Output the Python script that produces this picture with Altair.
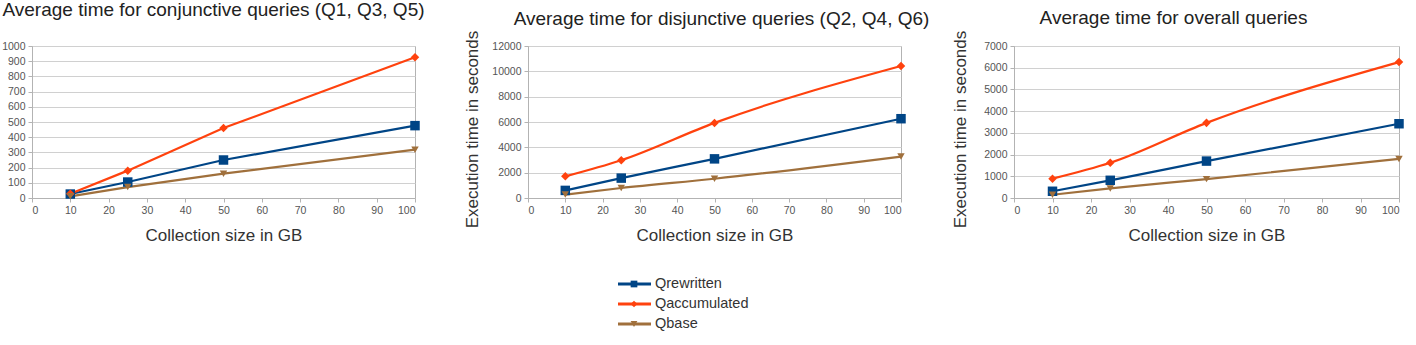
import altair as alt
import pandas as pd

sizes = [10, 25, 50, 100]
series = ["Qrewritten", "Qaccumulated", "Qbase"]
colors = ["#004586", "#ff420e", "#a0703c"]
shapes = ["square", "diamond", "triangle-down"]
marker_sizes = [90, 55, 65]

# average execution time (seconds) per collection size
conj_rewritten = [26, 105, 250, 476]
conj_accumulated = [28, 180, 460, 926]
conj_base = [11, 72, 160, 318]

disj_rewritten = [600, 1570, 3090, 6260]
disj_accumulated = [1710, 2980, 5930, 10420]
disj_base = [270, 790, 1520, 3270]

all_rewritten = [310, 815, 1700, 3420]
all_accumulated = [890, 1620, 3460, 6260]
all_base = [150, 440, 870, 1800]

FONT = "Liberation Sans"
GRID = "#b3b3b3"
PLOT_H = 152


def frame(values):
    rows = []
    for name, ys in zip(series, values):
        for x, y in zip(sizes, ys):
            rows.append({"size": x, "time": y, "series": name})
    return pd.DataFrame(rows)


def panel(values, title, ymax, ystep, width, ytitle, dx, interp, tpad, toff):
    df = frame(values)
    color = alt.Color("series:N", scale=alt.Scale(domain=series, range=colors), legend=None)
    x = alt.X("size:Q", scale=alt.Scale(domain=[0, 100], nice=False),
              axis=alt.Axis(values=list(range(0, 101, 10)), grid=False, format="d",
                            title="Collection size in GB", titlePadding=12))
    y = alt.Y("time:Q", scale=alt.Scale(domain=[0, ymax], nice=False),
              axis=alt.Axis(values=list(range(0, ymax + 1, ystep)), format="d",
                            title=ytitle, titlePadding=tpad, titleY=PLOT_H / 2 + 7))
    lines = alt.Chart(df).mark_line(strokeWidth=2.2, interpolate=interp).encode(
        x=x, y=y, color=color, detail="series:N")
    pts = alt.Chart(df).mark_point(filled=True, opacity=1).encode(
        x=x, y=y, color=color,
        shape=alt.Shape("series:N", scale=alt.Scale(domain=series, range=shapes), legend=None),
        size=alt.Size("series:N", scale=alt.Scale(domain=series, range=marker_sizes), legend=None))
    return (lines + pts).properties(
        width=width, height=PLOT_H,
        title=alt.TitleParams(title, fontSize=19, font=FONT, fontWeight="normal",
                              color="#222222", dx=dx, offset=toff))


p1 = panel([conj_rewritten, conj_accumulated, conj_base],
           "Average time for conjunctive queries (Q1, Q3, Q5)", 1000, 100, 383, None, -10,
           "linear", 10, 21)
p2 = panel([disj_rewritten, disj_accumulated, disj_base],
           "Average time for disjunctive queries (Q2, Q4, Q6)", 12000, 2000, 373,
           "Execution time in seconds", 7, "monotone", 10, 1)
p3 = panel([all_rewritten, all_accumulated, all_base],
           "Average time for overall queries", 7000, 1000, 385,
           "Execution time in seconds", -33, "monotone", 14, 2)

# flush bounds: spacing is measured between plot areas
top = alt.hconcat(p1, p2, p3, spacing=113, bounds="flush")

# legend drawn as its own small chart: line sample, marker and name per series
leg_df = pd.DataFrame({"series": series})
leg_y = alt.Y("series:N", sort=series, axis=None, scale=alt.Scale(paddingOuter=0.5))
leg_color = alt.Color("series:N", scale=alt.Scale(domain=series, range=colors), legend=None)
leg_rule = alt.Chart(leg_df).mark_rule(strokeWidth=3).encode(
    x=alt.value(586), x2=alt.value(619), y=leg_y, color=leg_color)
leg_pt = alt.Chart(leg_df).mark_point(filled=True, opacity=1).encode(
    x=alt.value(602), y=leg_y, color=leg_color,
    shape=alt.Shape("series:N", scale=alt.Scale(domain=series, range=shapes), legend=None),
    size=alt.value(45))
leg_txt = alt.Chart(leg_df).mark_text(align="left", baseline="middle", fontSize=14.5,
                                      font=FONT, color="#333333").encode(
    x=alt.value(623), y=leg_y, text="series:N")
legend = (leg_rule + leg_pt + leg_txt).properties(
    width=700, height=80, view=alt.ViewBackground(stroke=None))

chart = alt.vconcat(top, legend, spacing=218, bounds="flush").properties(
    padding={"left": 1, "top": 0, "right": 5, "bottom": 0}
).configure_view(stroke=GRID, strokeWidth=1).configure_axis(
    labelFont=FONT, labelFontSize=10.5, labelColor="#555555",
    titleFont=FONT, titleFontSize=17, titleFontWeight="normal", titleColor="#333333",
    domainColor=GRID, tickColor=GRID, gridColor="#d0d0d0", tickSize=4,
    labelPadding=3
)

chart.save("out.html", embed_options={"renderer": "svg", "actions": False})
